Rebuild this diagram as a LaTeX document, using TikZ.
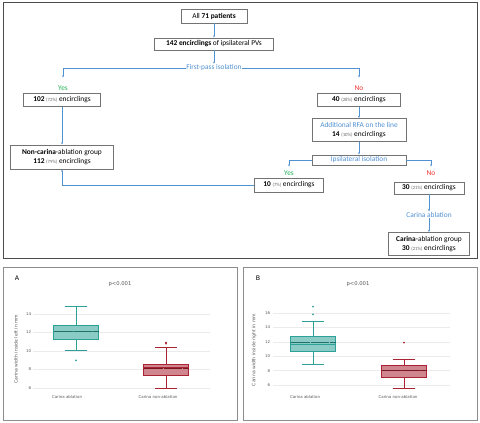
\documentclass[tikz,border=0pt]{standalone}
\usepackage{fontspec}
\setmainfont{Carlito}
\newfontfamily\plotfont{DejaVu Sans}
\usetikzlibrary{arrows.meta}

\definecolor{flowblue}{RGB}{80,145,210}
\definecolor{yesgreen}{RGB}{40,180,90}
\definecolor{nored}{RGB}{240,50,50}
\definecolor{tealc}{RGB}{45,160,152}
\definecolor{redc}{RGB}{170,35,50}

\tikzset{
  flowbox/.style={draw=black!55, line width=0.8pt, fill=white, align=center,
    inner sep=1pt, font=\fontsize{10.5}{12}\selectfont},
  flowtext/.style={text=flowblue, align=center, inner sep=1pt, font=\fontsize{10.5}{12}\selectfont},
  yestext/.style={text=yesgreen, inner sep=1pt, font=\fontsize{10.5}{11}\selectfont},
  notext/.style={text=nored, inner sep=1pt, font=\fontsize{10.5}{11}\selectfont},
  link/.style={draw=flowblue, line width=0.6pt, -{Latex[length=3pt,width=2.6pt]}},
  panel/.style={draw=black!45, line width=0.6pt},
  plotlbl/.style={text=black!65, font=\plotfont\fontsize{5.6}{6}\selectfont, inner sep=1pt},
  gridln/.style={draw=black!8, line width=0.4pt},
}

% percentage in small grey
\newcommand{\pc}[1]{\textcolor{black!60}{\fontsize{6.8}{7}\selectfont(#1)}}
% boxplot: x, low, q1, median, q3, high, mean, colour
\newcommand{\bxp}[8]{%
  \draw[#8, line width=0.7pt] (#1,#2) -- (#1,#3) (#1,#5) -- (#1,#6);
  \draw[#8, line width=0.7pt] (#1-11,#2) -- (#1+11,#2) (#1-11,#6) -- (#1+11,#6);
  \draw[#8, line width=0.8pt, fill=#8!55!white] (#1-22.5,#3) rectangle (#1+22.5,#5);
  \draw[#8, line width=0.8pt] (#1-22.5,#4) -- (#1+22.5,#4);
  \draw[#8!70!black, line width=0.5pt, densely dotted] (#1-22.5,#7) -- (#1+22.5,#7);
}

\begin{document}
\begin{tikzpicture}[x=0.5mm, y=-0.5mm]
  \useasboundingbox (0,0) rectangle (480,423);
  \fill[white] (0,0) rectangle (480,423);

  % flow chart
  \draw[black!70, line width=1pt] (3,2) rectangle (477,258);

  \node[flowbox, minimum width=33mm, minimum height=7mm] (all) at (214,16) {All \textbf{71 patients}};
  \node[flowbox, minimum width=59.5mm, minimum height=6mm] (enc) at (214,44) {\textbf{142 encirclings} of ipsilateral PVs};
  \node[flowtext] (fpi) at (214,68) {First-pass isolation};
  \node[yestext] (yes1) at (63,88) {Yes};
  \node[notext] (no1) at (359,88) {No};
  \node[flowbox, minimum width=38.5mm, minimum height=6.5mm] (b102) at (62,100) {\textbf{102} \pc{72\%} encirclings};
  \node[flowbox, minimum width=41.5mm, minimum height=6.5mm] (b40) at (359,100) {\textbf{40} \pc{28\%} encirclings};
  \node[flowbox, minimum width=47mm, minimum height=11.5mm] (addl) at (359,130)
    {\textcolor{flowblue}{Additional RFA on the line}\\\textbf{14} \pc{10\%} encirclings};
  \node[flowbox, minimum width=47mm, minimum height=5mm, text=flowblue] (ipsi) at (359,160) {Ipsilateral isolation};
  \node[yestext] (yes2) at (289,173) {Yes};
  \node[notext] (no2) at (431,173) {No};
  \node[flowbox, minimum width=34.5mm, minimum height=7mm] (b10) at (289,185) {\textbf{10} \pc{7\%} encirclings};
  \node[flowbox, minimum width=35mm, minimum height=6mm] (b30) at (429,188) {\textbf{30} \pc{21\%} encirclings};
  \node[flowtext] (carab) at (429,215) {Carina ablation};
  \node[flowbox, minimum width=40.5mm, minimum height=11.5mm] (cgroup) at (429,244)
    {\textbf{Carina}-ablation group\\\textbf{30} \pc{21\%} encirclings};
  \node[flowbox, minimum width=51.5mm, minimum height=12mm] (ncgroup) at (62,157)
    {\textbf{Non-carina}-ablation group\\\textbf{112} \pc{79\%} encirclings};

  \draw[link] (all) -- (enc);
  \draw[link] (enc) -- (fpi);
  \draw[link, shorten >=3.5mm] (fpi.west) -| (yes1.north);
  \draw[link, shorten >=3.5mm] (fpi.east) -| (no1.north);
  \draw[link] (b102) -- (ncgroup);
  \draw[link] (b40) -- (addl);
  \draw[link] (addl) -- (ipsi);
  \draw[link, shorten >=1.5mm] (ipsi.west) -| (yes2.north);
  \draw[link, shorten >=1.5mm] (ipsi.east) -| (no2.north);
  \draw[link] (b30) -- (carab);
  \draw[link] (carab) -- (cgroup);
  \draw[link] (b10.west) -| (ncgroup.south);

  % panel A
  \draw[panel] (3,267) rectangle (237,420);
  \node[font=\plotfont\fontsize{9}{10}\selectfont, inner sep=0pt] (labA) at (17,278) {A};
  \node[plotlbl, font=\plotfont\fontsize{7.5}{8}\selectfont] (pA) at (120,284) {p<0.001};
  \node[plotlbl, rotate=90, font=\plotfont\fontsize{6.5}{7}\selectfont] (ylA) at (16,349) {Carina width inside left in mm};
  \node[plotlbl] (c1A) at (67,397) {Carina ablation};
  \node[plotlbl] (c2A) at (158,397) {Carina non-ablation};
  \begin{scope}[shift={(0,443.5)}, x=0.5mm, y=4.625mm]
    \foreach \v in {6,8,...,14} {
      \draw[gridln] (33,\v) -- (210,\v);
      \node[plotlbl, anchor=east] at (32,\v) {\v};
    }
    \bxp{76}{10.1}{11.3}{12.1}{12.8}{14.8}{12.1}{tealc}
    \bxp{166}{6.0}{7.4}{8.2}{8.6}{10.4}{8.1}{redc}
    \fill[tealc] (76,9.0) circle (0.5mm);
    \fill[redc] (166,10.8) circle (0.5mm) (166,10.9) circle (0.5mm);
  \end{scope}

  % panel B
  \draw[panel] (243,267) rectangle (477,420);
  \node[font=\plotfont\fontsize{9}{10}\selectfont, inner sep=0pt] (labB) at (258,278) {B};
  \node[plotlbl, font=\plotfont\fontsize{7.5}{8}\selectfont] (pB) at (358,284) {p<0.001};
  \node[plotlbl, rotate=90, font=\plotfont\fontsize{6.5}{7}\selectfont] (ylB) at (254,350) {Carina width inside right in mm};
  \node[plotlbl] (c1B) at (305,397) {Carina ablation};
  \node[plotlbl] (c2B) at (398,397) {Carina non-ablation};
  \begin{scope}[shift={(0,428.2)}, x=0.5mm, y=3.6mm]
    \foreach \v in {6,8,...,16} {
      \draw[gridln] (273,\v) -- (450,\v);
      \node[plotlbl, anchor=east] at (271,\v) {\v};
    }
    \bxp{313}{8.9}{10.7}{11.7}{12.7}{14.9}{12.0}{tealc}
    \bxp{404}{5.5}{7.1}{8.1}{8.7}{9.6}{8.0}{redc}
    \fill[tealc] (313,16.9) circle (0.5mm) (313,15.8) circle (0.5mm);
    \fill[redc] (404,11.9) circle (0.5mm);
  \end{scope}
\end{tikzpicture}
\end{document}
